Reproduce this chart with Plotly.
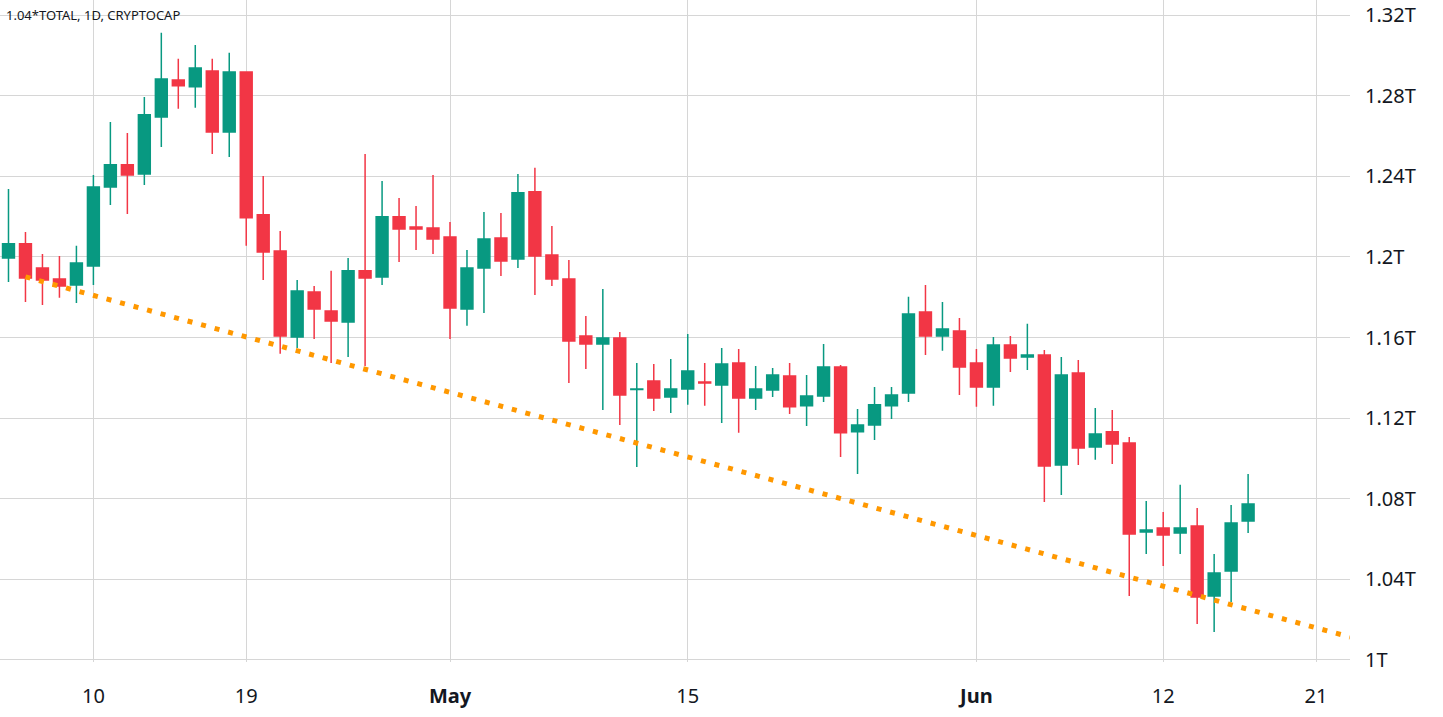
import plotly.graph_objects as go
import pandas as pd

dates = pd.date_range("2023-04-05", "2023-06-17", freq="D")
opens = [1.1995,1.2065,1.1945,1.1891,1.1861,1.1955,1.2347,1.2457,1.2412,1.2695,1.2878,1.2844,1.2923,1.2620,1.2918,
         1.2209,1.2030,1.1603,1.1826,1.1732,1.1677,1.1931,1.1901,1.2199,1.2149,1.2144,1.2099,1.1742,1.1945,1.2094,
         1.1990,1.2323,1.2010,1.1891,1.1608,1.1568,1.1598,1.1342,1.1385,1.1305,1.1345,1.1380,1.1365,1.1474,1.1300,
         1.1340,1.1409,1.1261,1.1310,1.1454,1.1132,1.1166,1.1261,1.1325,1.1727,1.1608,1.1633,1.1474,1.1355,1.1563,
         1.1504,1.1514,1.0968,1.1424,1.1057,1.1132,1.1077,1.0635,1.0655,1.0630,1.0665,1.0318,1.0442,1.0690]
highs = [1.2337,1.2124,1.2015,1.2005,1.2055,1.2407,1.2670,1.2615,1.2794,1.3112,1.2983,1.3052,1.2983,1.3013,1.2918,
         1.2402,1.2129,1.1886,1.1856,1.1931,1.1995,1.2511,1.2377,1.2293,1.2253,1.2407,1.2174,1.2035,1.2223,1.2218,
         1.2412,1.2442,1.2154,1.1985,1.1707,1.1841,1.1628,1.1474,1.1469,1.1494,1.1618,1.1474,1.1548,1.1543,1.1459,
         1.1449,1.1474,1.1414,1.1568,1.1464,1.1246,1.1355,1.1355,1.1802,1.1861,1.1777,1.1697,1.1543,1.1603,1.1608,
         1.1668,1.1538,1.1504,1.1489,1.1251,1.1241,1.1107,1.0789,1.0734,1.0869,1.0754,1.0526,1.0769,1.0923]
lows = [1.1876,1.1777,1.1762,1.1797,1.1772,1.1861,1.2258,1.2213,1.2357,1.2546,1.2735,1.2740,1.2511,1.2496,1.2055,
        1.1886,1.1519,1.1548,1.1593,1.1474,1.1504,1.1459,1.1861,1.1975,1.2035,1.2015,1.1593,1.1658,1.1722,1.1906,
        1.1945,1.1811,1.1856,1.1375,1.1444,1.1241,1.1166,1.0958,1.1236,1.1226,1.1266,1.1261,1.1176,1.1127,1.1241,
        1.1305,1.1221,1.1161,1.1280,1.1007,1.0923,1.1092,1.1196,1.1280,1.1514,1.1534,1.1315,1.1256,1.1261,1.1429,
        1.1439,1.0784,1.0819,1.0968,1.0993,1.0973,1.0318,1.0526,1.0466,1.0526,1.0179,1.0139,1.0288,1.0630]
closes = [1.2065,1.1896,1.1886,1.1856,1.1970,1.2347,1.2457,1.2407,1.2705,1.2883,1.2849,1.2938,1.2620,1.2918,1.2194,
          1.2025,1.1608,1.1831,1.1742,1.1682,1.1931,1.1896,1.2199,1.2139,1.2139,1.2089,1.1747,1.1945,1.2089,1.1980,
          1.2318,1.2005,1.1891,1.1583,1.1568,1.1598,1.1315,1.1345,1.1300,1.1345,1.1434,1.1375,1.1469,1.1300,1.1345,
          1.1414,1.1256,1.1310,1.1454,1.1127,1.1166,1.1266,1.1315,1.1717,1.1608,1.1643,1.1454,1.1355,1.1563,1.1499,
          1.1514,1.0963,1.1414,1.1052,1.1122,1.1072,1.0625,1.0645,1.0620,1.0655,1.0313,1.0432,1.0680,1.0774]

trend_dates = ["2023-04-06", "2023-06-23"]
trend_values = [1.1901, 1.0114]

ytick_vals = [1.00, 1.04, 1.08, 1.12, 1.16, 1.20, 1.24, 1.28, 1.32]
ytick_text = ["1T", "1.04T", "1.08T", "1.12T", "1.16T", "1.2T", "1.24T", "1.28T", "1.32T"]
xtick_vals = ["2023-04-10", "2023-04-19", "2023-05-01", "2023-05-15", "2023-06-01", "2023-06-12", "2023-06-21"]
xtick_text = ["10", "19", "<b>May</b>", "15", "<b>Jun</b>", "12", "21"]

GREEN, RED = "#089981", "#F23645"
fig = go.Figure()
fig.add_trace(go.Scatter(x=trend_dates, y=trend_values, mode="lines",
                         line=dict(color="#FF9800", width=5, dash="5px,9px"), hoverinfo="skip"))
fig.add_trace(go.Candlestick(x=dates, open=opens, high=highs, low=lows, close=closes,
                             increasing=dict(line=dict(color=GREEN, width=1.5), fillcolor=GREEN),
                             decreasing=dict(line=dict(color=RED, width=1.5), fillcolor=RED),
                             whiskerwidth=0))
fig.update_layout(
    width=1443, height=717, showlegend=False,
    margin=dict(l=0, r=93, t=0, b=55, autoexpand=False),
    boxgap=0.0,
    plot_bgcolor="white", paper_bgcolor="white",
    font=dict(family="Noto Sans", color="#131722"),
    xaxis=dict(range=["2023-04-04 12:00", "2023-06-23 00:00"], rangeslider=dict(visible=False),
               tickvals=xtick_vals, ticktext=xtick_text, tickfont=dict(size=20), automargin=False,
               ticklabelstandoff=20,
               showgrid=True, gridcolor="#d6d6d6", gridwidth=1, ticks="", zeroline=False),
    yaxis=dict(range=[0.9990, 1.3275], side="right", tickvals=ytick_vals, ticktext=ytick_text,
               tickfont=dict(size=20), showgrid=True, gridcolor="#d6d6d6", gridwidth=1, automargin=False,
               ticks="", ticklabelstandoff=14, zeroline=False),
    annotations=[dict(text="1.04*TOTAL, 1D, CRYPTOCAP", xref="paper", yref="paper", x=0.003, y=1.0,
                      xanchor="left", yanchor="top", showarrow=False, font=dict(size=13, color="#131722"), yshift=-4)],
)
fig.write_html("out.html", config={"displayModeBar": False},
               post_script="document.body.style.margin='0';document.body.style.overflow='hidden';")
